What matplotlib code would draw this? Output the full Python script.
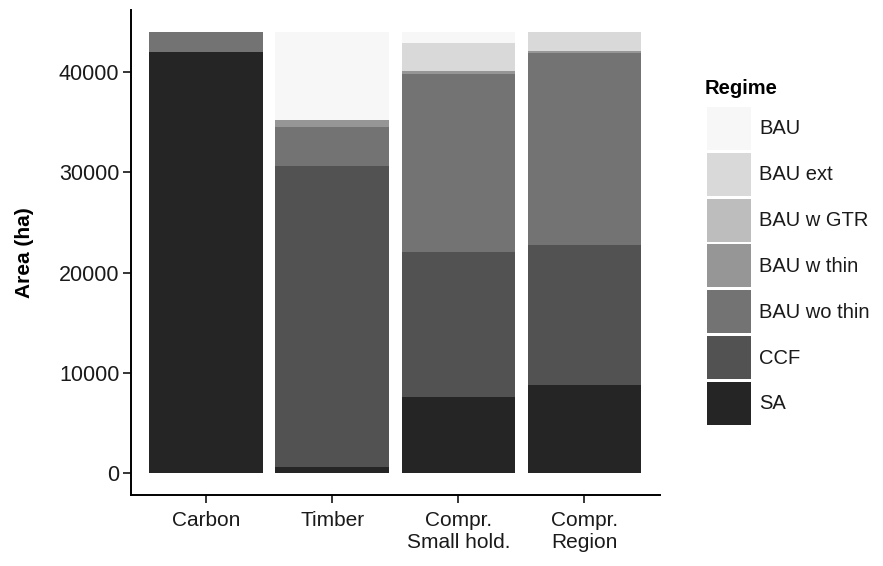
import matplotlib
matplotlib.use("Agg")
import matplotlib.pyplot as plt
from matplotlib.patches import Rectangle
import numpy as np

plt.rcParams['font.family'] = ['Liberation Sans', 'DejaVu Sans']

categories = ["Carbon", "Timber", "Compr.\nSmall hold.", "Compr.\nRegion"]
regimes = ["BAU", "BAU ext", "BAU w GTR", "BAU w thin", "BAU wo thin", "CCF", "SA"]
colors = ["#F7F7F7", "#D9D9D9", "#BDBDBD", "#969696", "#737373", "#525252", "#252525"]

# values per regime for each category (ha)
SA = [42000, 600, 7600, 8760]
CCF = [0, 30040, 14480, 13990]
BAU_wo_thin = [2000, 3900, 17800, 19150]
BAU_w_thin = [0, 700, 250, 250]
BAU_w_GTR = [0, 0, 0, 0]
BAU_ext = [0, 0, 2770, 1850]
BAU = [0, 8760, 1100, 0]

stack_order = [("SA", SA), ("CCF", CCF), ("BAU wo thin", BAU_wo_thin),
               ("BAU w thin", BAU_w_thin), ("BAU w GTR", BAU_w_GTR),
               ("BAU ext", BAU_ext), ("BAU", BAU)]
cmap = dict(zip(regimes, colors))

W, H = 883, 566
fig = plt.figure(figsize=(W/100, H/100), dpi=100)
ax = fig.add_axes([130.5/W, 1-494.7/H, (660-130.5)/W, (494.7-10.3)/H])

x = np.arange(len(categories))
bottom = np.zeros(len(categories))
for name, vals in stack_order:
    v = np.array(vals, dtype=float)
    ax.bar(x, v, width=0.9, bottom=bottom, color=cmap[name], edgecolor='none')
    bottom += v

ax.set_xlim(-0.6, len(categories) - 0.4)
ax.set_ylim(-2200, 46200)
ax.set_yticks([0, 10000, 20000, 30000, 40000])
ax.set_xticks(x)
ax.set_xticklabels(categories, fontsize=15, color='#1a1a1a', linespacing=1.2)
ax.tick_params(axis='y', labelsize=15.5, labelcolor='#1a1a1a', length=6, width=1.1, direction='out', pad=2)
ax.tick_params(axis='x', length=6, width=1.1, direction='out', pad=6)
for s in ['top', 'right']:
    ax.spines[s].set_visible(False)
for s in ['left', 'bottom']:
    ax.spines[s].set_linewidth(1.4)
ax.set_ylabel("Area (ha)", fontsize=15, fontweight='bold', labelpad=18)

# legend drawn in pixel coords
lax = fig.add_axes([0, 0, 1, 1])
lax.set_xlim(0, W)
lax.set_ylim(H, 0)
lax.axis('off')
lax.text(705, 88, "Regime", fontsize=14.5, fontweight='bold', va='center', ha='left')
key_top = 107
step = 45.8
for i, (name, col) in enumerate(zip(regimes, colors)):
    y0 = key_top + i * step
    lax.add_patch(Rectangle((707, y0), 44, 43, facecolor=col, edgecolor='none'))
    lax.text(759, y0 + 22, name, fontsize=14.5, va='center', ha='left', color='#1a1a1a')

fig.savefig("out.png", dpi=100)
